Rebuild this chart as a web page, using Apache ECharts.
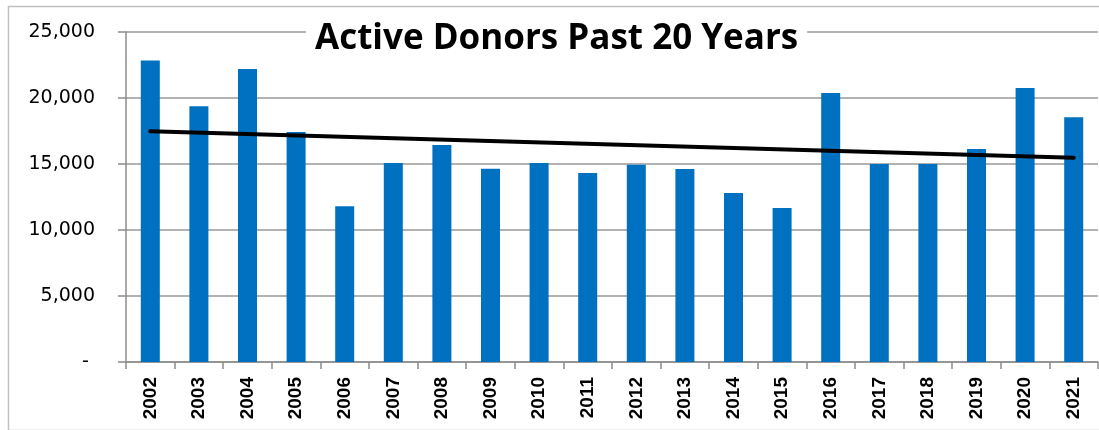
<!DOCTYPE html>
<html>
<head>
<meta charset="utf-8">
<script src="https://cdn.jsdelivr.net/npm/echarts@6/dist/echarts.min.js"></script>
<style>
html,body{margin:0;padding:0;background:#fff;}
#chart{width:1099px;height:430px;}
</style>
</head>
<body>
<div id="chart"></div>
<script>
const years = ['2002','2003','2004','2005','2006','2007','2008','2009','2010','2011','2012','2013','2014','2015','2016','2017','2018','2019','2020','2021'];
const donors = [22850,19370,22200,17420,11800,15080,16440,14640,15080,14320,14950,14620,12800,11670,20380,15000,15000,16140,20760,18540];
const trendStart = ['2002', 17480];
const trendEnd = ['2021', 15480];
const yTicks = [0, 5000, 10000, 15000, 20000, 25000];
const titleText = 'Active Donors Past 20 Years';

const chart = echarts.init(document.getElementById('chart'), null, {renderer:'canvas'});
chart.setOption({
  animation: false,
  backgroundColor: '#fff',
  title: {
    text: titleText,
    left: 306,
    top: 20,
    padding: [2, 9],
    backgroundColor: '#fff',
    textStyle: {fontFamily: 'Open Sans', fontWeight: 'bold', fontSize: 35, color: '#000'},
    z: 10
  },
  graphic: [{
    type: 'rect', left: 6, top: 4, z: -1, silent: true,
    shape: {width: 1100, height: 424},
    style: {fill: 'none', stroke: '#c0c0c0', lineWidth: 1.5}
  }],
  grid: {left: 126, right: 1, top: 32, bottom: 68, containLabel: false},
  xAxis: {
    type: 'category',
    data: years,
    axisLine: {show: true, lineStyle: {color: '#8c8c8c', width: 1.5}},
    axisTick: {show: true, length: 7, alignWithLabel: false, lineStyle: {color: '#8c8c8c', width: 1.5}},
    axisLabel: {rotate: 90, interval: 0, margin: 15, fontFamily: 'Liberation Sans', fontWeight: 'bold', fontSize: 19, color: '#000'}
  },
  yAxis: {
    type: 'value',
    min: yTicks[0],
    max: yTicks[yTicks.length - 1],
    interval: 5000,
    axisLine: {show: true, lineStyle: {color: '#8c8c8c', width: 1.5}},
    axisTick: {show: true, length: 8, lineStyle: {color: '#8c8c8c', width: 1.5}},
    splitLine: {show: true, lineStyle: {color: '#999', width: 1.5}},
    axisLabel: {
      margin: 31,
      fontFamily: 'DejaVu Sans', fontSize: 19, color: '#000',
      formatter: v => v === 0 ? '- ' : v.toLocaleString('en-US')
    }
  },
  series: [{
    type: 'bar',
    data: donors,
    barWidth: 19,
    itemStyle: {color: '#0070C0'},
    markLine: {
      silent: true,
      symbol: ['none', 'none'],
      label: {show: false},
      lineStyle: {color: '#000', width: 4, type: 'solid', cap: 'round'},
      data: [[{coord: trendStart}, {coord: trendEnd}]]
    }
  }]
});
</script>
</body>
</html>
